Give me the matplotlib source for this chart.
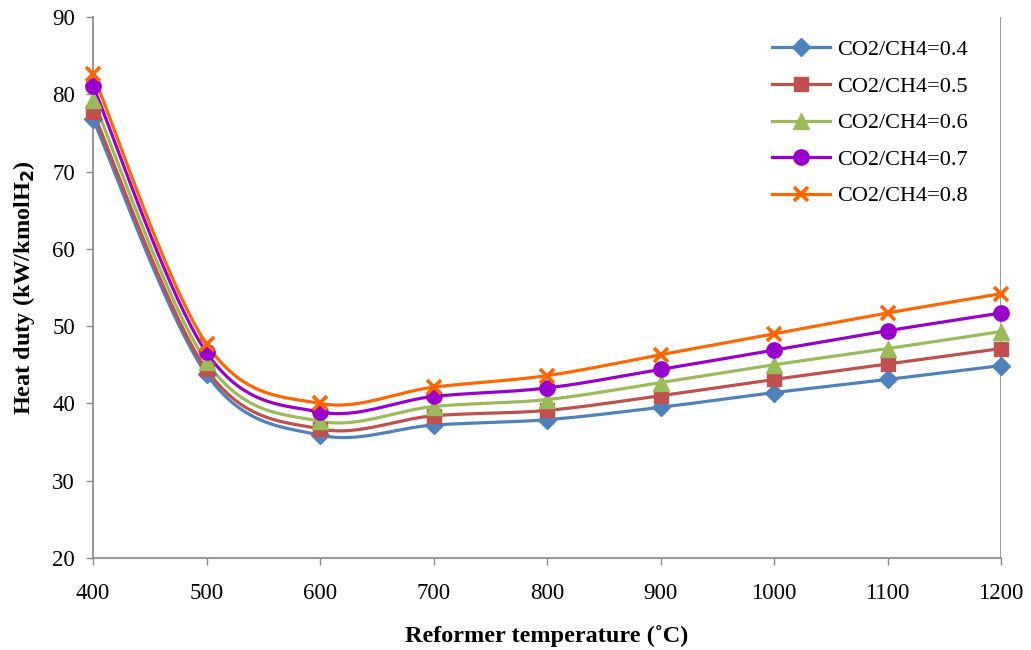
import numpy as np
import matplotlib
matplotlib.use("Agg")
import matplotlib.pyplot as plt
from matplotlib.lines import Line2D

plt.rcParams['font.family'] = ['Liberation Serif', 'DejaVu Serif']

temperature = [400, 500, 600, 700, 800, 900, 1000, 1100, 1200]
ratio_labels = ["CO2/CH4=0.4", "CO2/CH4=0.5", "CO2/CH4=0.6", "CO2/CH4=0.7", "CO2/CH4=0.8"]
duty_04 = [76.8, 43.8, 35.9, 37.2, 37.9, 39.5, 41.4, 43.1, 44.9]
duty_05 = [77.7, 44.4, 36.7, 38.4, 39.1, 41.0, 43.1, 45.1, 47.1]
duty_06 = [79.3, 45.4, 37.7, 39.6, 40.5, 42.7, 45.0, 47.1, 49.3]
duty_07 = [81.1, 46.6, 38.9, 40.9, 42.0, 44.4, 46.9, 49.4, 51.7]
duty_08 = [82.6, 47.7, 40.0, 42.1, 43.6, 46.3, 49.0, 51.7, 54.2]
series = [duty_04, duty_05, duty_06, duty_07, duty_08]

colors = ["#4F81BD", "#C0504D", "#9BBB59", "#9900CC", "#FF6600"]
markers = ["D", "s", "^", "o", "x"]
msizes = [9, 10, 11, 11, 10]


def smooth(x, y, n=40):
    """Bezier smoothing with Catmull-Rom control points."""
    x = np.asarray(x, float)
    y = np.asarray(y, float)
    pts = np.column_stack([x, y])
    out = []
    for i in range(len(pts) - 1):
        p0 = pts[i - 1] if i > 0 else pts[i]
        p1 = pts[i]
        p2 = pts[i + 1]
        p3 = pts[i + 2] if i + 2 < len(pts) else pts[i + 1]
        c1 = p1 + (p2 - p0) / 6.0
        c2 = p2 - (p3 - p1) / 6.0
        t = np.linspace(0, 1, n)[:, None]
        seg = ((1 - t) ** 3) * p1 + 3 * ((1 - t) ** 2) * t * c1 + 3 * (1 - t) * t ** 2 * c2 + t ** 3 * p2
        out.append(seg if i == 0 else seg[1:])
    seg = np.vstack(out)
    return seg[:, 0], seg[:, 1]


fig = plt.figure(figsize=(10.31, 6.5), dpi=100)
ax = fig.add_axes([93 / 1031, 1 - 558 / 650, (1001 - 93) / 1031, (558 - 17) / 650])

handles = []
for vals, c, m, ms, lab in zip(series, colors, markers, msizes, ratio_labels):
    sx, sy = smooth(temperature, vals)
    ax.plot(sx, sy, color=c, lw=2.3, solid_capstyle='round', zorder=2)
    mew = 2.6 if m == "x" else 1
    ax.plot(temperature, vals, ls='none', marker=m, ms=ms, color=c,
            mec=c, mew=mew, zorder=3, clip_on=False)
    handles.append(Line2D([], [], color=c, lw=2.3, marker=m, ms=ms, mec=c, mew=mew, label=lab))

ax.set_xlim(400, 1200)
ax.set_ylim(20, 90)
ax.set_xticks(np.arange(400, 1201, 100))
ax.set_yticks(np.arange(20, 91, 10))
ax.tick_params(axis='both', labelsize=16.5, length=5, width=1, color='#868686',
               direction='out')
ax.tick_params(axis='x', pad=13)
ax.tick_params(axis='y', pad=8)

for side in ['left', 'bottom']:
    ax.spines[side].set_color('#868686')
    ax.spines[side].set_linewidth(1.2)
for side in ['top', 'right']:
    ax.spines[side].set_visible(False)
ax.axvline(1200, color='#868686', lw=1.2, zorder=1)

ax.set_xlabel("Reformer temperature (˚C)", fontsize=17.5, fontweight='bold', labelpad=15)
ax.set_ylabel("Heat duty (kW/kmolH$_\\mathbf{2}$)", fontsize=17.5, fontweight='bold', labelpad=11)

leg = ax.legend(handles=handles, loc='upper right', bbox_to_anchor=(0.985, 0.995),
                frameon=False, fontsize=16, handlelength=2.6, labelspacing=0.72,
                handletextpad=0.3)

fig.savefig("out.png", dpi=100)
